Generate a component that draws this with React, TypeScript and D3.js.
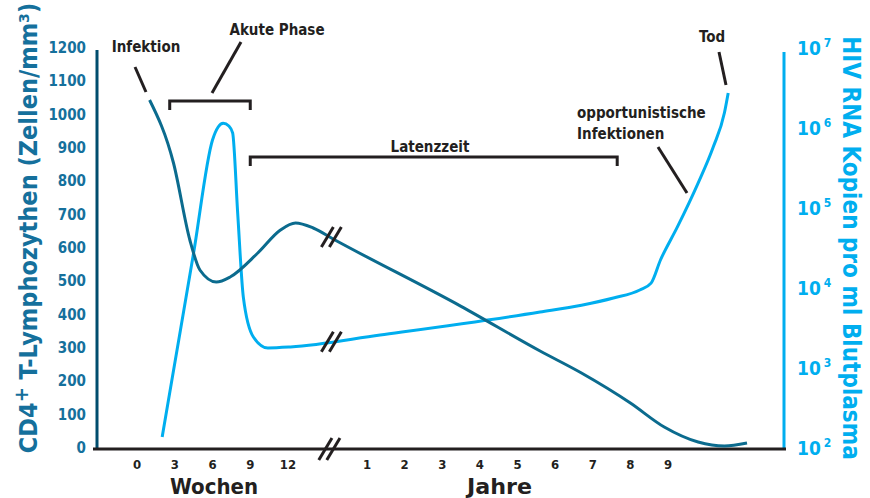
import { useRef, useEffect } from 'react';
import { select, scaleLinear, scaleLog, line, curveMonotoneX } from 'd3';

// Week ticks (left part of the x axis) and year ticks (after the break)
const weekTicks = [0, 3, 6, 9, 12];
const yearTicks = [1, 2, 3, 4, 5, 6, 7, 8, 9];
const cd4Ticks = [0, 100, 200, 300, 400, 500, 600, 700, 800, 900, 1000, 1100, 1200];
const rnaTicks = [2, 3, 4, 5, 6, 7];

// CD4 count: [segment, time, cells/mm3]
const cd4Series: [string, number, number][] = [
    ['w', 1.0, 1044],
    ['w', 2.9, 855],
    ['w', 4.2, 624],
    ['w', 5.0, 534],
    ['w', 6.3, 498],
    ['w', 7.4, 513],
    ['w', 9.6, 585],
    ['w', 11.4, 654],
    ['w', 12.6, 675],
    ['w', 14.0, 660],
    ['y', 0.1, 627],
    ['y', 3.5, 425],
    ['y', 5.6, 291],
    ['y', 6.7, 225],
    ['y', 8.0, 135],
    ['y', 8.9, 63],
    ['y', 9.8, 18],
    ['y', 10.5, 6],
    ['y', 11.1, 15],
];

// HIV RNA copies/ml: [segment, time, copies]
const rnaSeries: [string, number, number][] = [
    ['w', 2.0, 137],
    ['w', 2.8, 750],
    ['w', 4.5, 27500],
    ['w', 6.0, 708000],
    ['w', 6.45, 1030000],
    ['w', 6.85, 1150000],
    ['w', 7.3, 1060000],
    ['w', 7.6, 870000],
    ['w', 8.0, 87000],
    ['w', 8.45, 7700],
    ['w', 9.25, 2440],
    ['w', 10.4, 1780],
    ['w', 12.2, 1830],
    ['y', 1.35, 2580],
    ['y', 5.6, 5000],
    ['y', 6.7, 6100],
    ['y', 7.55, 7500],
    ['y', 8.25, 9440],
    ['y', 8.55, 11500],
    ['y', 8.8, 22400],
    ['y', 9.25, 58000],
    ['y', 9.8, 205000],
    ['y', 10.2, 575000],
    ['y', 10.5, 1550000],
    ['y', 10.6, 2740000],
];

const FONT = "'Liberation Sans Narrow', 'DejaVu Sans Condensed', 'Roboto', sans-serif";
const INK = '#231f20';
const TEAL = '#0b6b8e';
const TEAL_DARK = '#004d6e';
const TEAL_TEXT = '#15709c';
const BLUE = '#00aeef';

function App() {
    const graphRef = useRef<SVGSVGElement | null>(null);

    const width = 870;
    const height = 498;
    const leftX = 97;
    const rightX = 784;
    const baseY = 448;
    const topY = 48;

    // Scales
    const xWeeks = scaleLinear().domain([0, 12]).range([137, 288]);
    const xYears = scaleLinear().domain([1, 9]).range([367, 668]);
    const breakX = xYears(0);
    const yCd4 = scaleLinear().domain([0, 1200]).range([baseY, topY]);
    const yRna = scaleLog().domain([1e2, 1e7]).range([baseY, topY]);

    const xOf = (d: [string, number, number]) => (d[0] === 'w' ? xWeeks(d[1]) : xYears(d[1]));

    useEffect(() => {
        const svg = select(graphRef.current);
        svg.selectAll('*').remove();

        // y at the break, interpolated between neighbouring points
        const yAtBreak = (data: [string, number, number][], yScale: (v: number) => number) => {
            for (let i = 1; i < data.length; i++) {
                const x0 = xOf(data[i - 1]);
                const x1 = xOf(data[i]);
                if (x0 <= breakX && x1 >= breakX) {
                    const t = (breakX - x0) / (x1 - x0);
                    return yScale(data[i - 1][2]) * (1 - t) + yScale(data[i][2]) * t;
                }
            }
            return 0;
        };

        const breakMark = (cx: number, cy: number, h: number) => {
            [-4, 4].forEach((dx) => {
                svg.append('line')
                    .attr('x1', cx + dx - h * 0.3)
                    .attr('y1', cy + h / 2)
                    .attr('x2', cx + dx + h * 0.3)
                    .attr('y2', cy - h / 2)
                    .attr('stroke', INK)
                    .attr('stroke-width', 3);
            });
        };

        // Axes
        svg.append('line')
            .attr('x1', leftX).attr('x2', leftX)
            .attr('y1', 50).attr('y2', baseY)
            .attr('stroke', TEAL_DARK).attr('stroke-width', 3);
        svg.append('line')
            .attr('x1', rightX).attr('x2', rightX)
            .attr('y1', 52).attr('y2', baseY)
            .attr('stroke', BLUE).attr('stroke-width', 3);
        svg.append('line')
            .attr('x1', leftX - 4).attr('x2', rightX + 2)
            .attr('y1', baseY + 1).attr('y2', baseY + 1)
            .attr('stroke', INK).attr('stroke-width', 3);

        // Left tick labels
        svg.append('g')
            .selectAll('text')
            .data(cd4Ticks)
            .join('text')
            .attr('x', 86)
            .attr('y', (d) => yCd4(d) + 5)
            .attr('text-anchor', 'end')
            .attr('fill', TEAL_TEXT)
            .style('font', `bold 15px ${FONT}`)
            .text((d) => d);

        // Right tick labels (10^n)
        const rt = svg.append('g')
            .selectAll('text')
            .data(rnaTicks)
            .join('text')
            .attr('x', 797)
            .attr('y', (d) => yRna(Math.pow(10, d)) + 7)
            .attr('fill', BLUE)
            .style('font', `bold 19px ${FONT}`);
        rt.append('tspan').text('10');
        rt.append('tspan')
            .attr('dx', 3)
            .attr('dy', -8)
            .style('font-size', '12px')
            .text((d) => d);

        // X tick labels
        svg.append('g')
            .selectAll('text')
            .data(weekTicks)
            .join('text')
            .attr('x', (d) => xWeeks(d))
            .attr('y', 469)
            .attr('text-anchor', 'middle')
            .attr('fill', INK)
            .style('font', `bold 13px ${FONT}`)
            .text((d) => d);
        svg.append('g')
            .selectAll('text')
            .data(yearTicks)
            .join('text')
            .attr('x', (d) => xYears(d))
            .attr('y', 469)
            .attr('text-anchor', 'middle')
            .attr('fill', INK)
            .style('font', `bold 13px ${FONT}`)
            .text((d) => d);

        svg.append('text')
            .attr('x', 170).attr('y', 494)
            .attr('textLength', 88)
            .attr('lengthAdjust', 'spacingAndGlyphs')
            .attr('fill', INK)
            .style('font', `bold 21px ${FONT}`)
            .text('Wochen');
        svg.append('text')
            .attr('x', 467).attr('y', 494)
            .attr('textLength', 65)
            .attr('lengthAdjust', 'spacingAndGlyphs')
            .attr('fill', INK)
            .style('font', `bold 21px ${FONT}`)
            .text('Jahre');

        // Axis titles
        const lt = svg.append('text')
            .attr('transform', 'translate(37, 228) rotate(-90)')
            .attr('text-anchor', 'middle')
            .attr('fill', TEAL_TEXT)
            .style('font', `bold 25px ${FONT}`);
        lt.append('tspan').text('CD4');
        lt.append('tspan').attr('dy', -9).style('font-size', '20px').text('+');
        lt.append('tspan').attr('dy', 9).text(' T-Lymphozythen (Zellen/mm³)');

        svg.append('text')
            .attr('transform', 'translate(843, 248) rotate(90)')
            .attr('text-anchor', 'middle')
            .attr('fill', BLUE)
            .style('font', `bold 24px ${FONT}`)
            .text('HIV RNA Kopien pro ml Blutplasma');

        // Curves
        const cd4Line = line<[string, number, number]>()
            .x(xOf)
            .y((d) => yCd4(d[2]))
            .curve(curveMonotoneX);
        const rnaLine = line<[string, number, number]>()
            .x(xOf)
            .y((d) => yRna(d[2]))
            .curve(curveMonotoneX);

        svg.append('path')
            .attr('d', rnaLine(rnaSeries))
            .attr('fill', 'none')
            .attr('stroke', BLUE)
            .attr('stroke-width', 3);
        svg.append('path')
            .attr('d', cd4Line(cd4Series))
            .attr('fill', 'none')
            .attr('stroke', TEAL)
            .attr('stroke-width', 3);

        // Break marks
        breakMark(breakX, baseY + 1, 22);
        breakMark(breakX + 2, yAtBreak(cd4Series, yCd4), 20);
        breakMark(breakX + 2, yAtBreak(rnaSeries, yRna), 20);

        // Annotations
        const label = (x: number, y: number, t: string, anchor = 'start') =>
            svg.append('text')
                .attr('x', x).attr('y', y)
                .attr('text-anchor', anchor)
                .attr('fill', INK)
                .style('font', `bold 15px ${FONT}`)
                .text(t);
        const stroke = (x1: number, y1: number, x2: number, y2: number) =>
            svg.append('line')
                .attr('x1', x1).attr('y1', y1)
                .attr('x2', x2).attr('y2', y2)
                .attr('stroke', INK)
                .attr('stroke-width', 3);

        label(146, 52, 'Infektion', 'middle');
        stroke(135, 67, 146, 92);

        label(277, 35, 'Akute Phase', 'middle');
        stroke(241, 42, 212, 93);
        // acute phase bracket
        svg.append('path')
            .attr('d', `M${xWeeks(2.6)},110V101H${xWeeks(9)}V110`)
            .attr('fill', 'none').attr('stroke', INK).attr('stroke-width', 3);

        label(430, 152, 'Latenzzeit', 'middle');
        svg.append('path')
            .attr('d', `M${xWeeks(9)},166V157H${xYears(7.65)}V166`)
            .attr('fill', 'none').attr('stroke', INK).attr('stroke-width', 3);

        label(577, 118, 'opportunistische');
        label(577, 139, 'Infektionen');
        stroke(658, 147, 687, 193);

        label(712, 42, 'Tod', 'middle');
        stroke(719, 52, 726, 85);
    }, []);

    return (
        <div style={{ position: 'absolute', left: 0, top: 0 }}>
            <svg
                ref={graphRef}
                width={width}
                height={height}
                viewBox={`0 0 ${width} ${height}`}
                style={{ display: 'block', background: '#fff' }}
            ></svg>
        </div>
    );
}

export default App;
